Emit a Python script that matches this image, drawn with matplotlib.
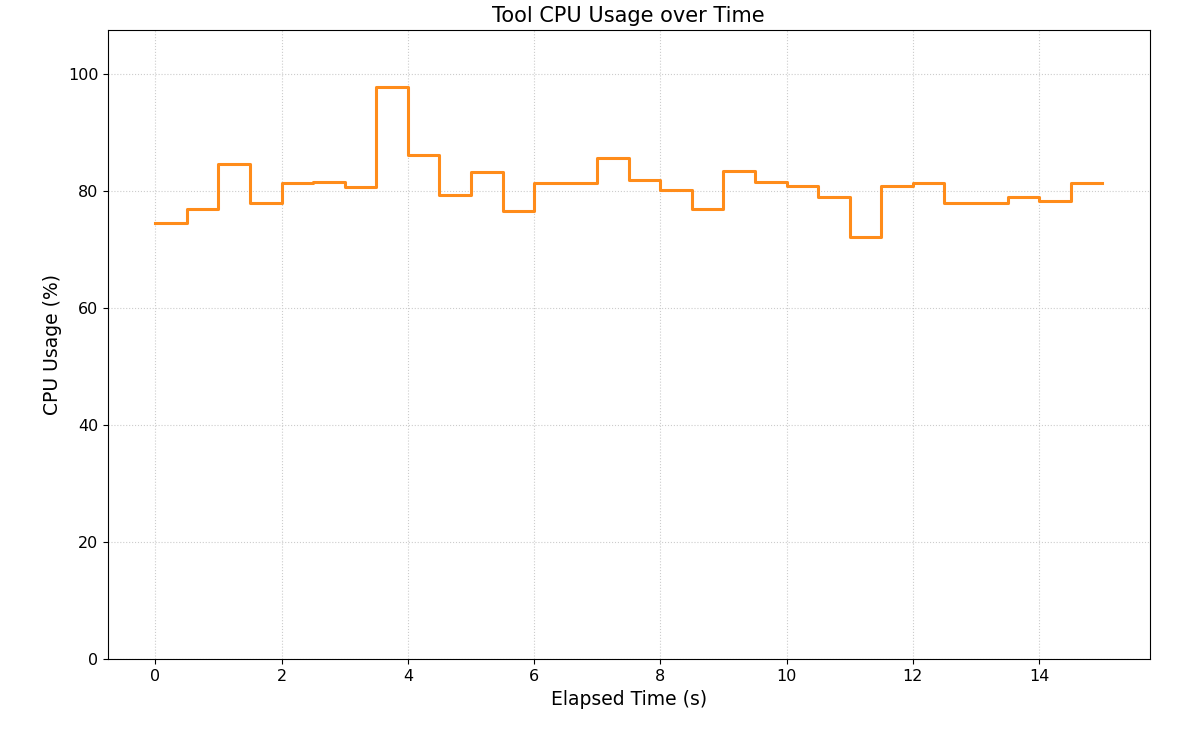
import matplotlib
matplotlib.use("Agg")
import matplotlib.pyplot as plt

time_s = [i * 0.5 for i in range(31)]
cpu = [74.6, 77.0, 84.6, 78.0, 81.4, 81.6, 80.7, 97.8, 86.2, 79.4, 83.3, 76.6,
       81.5, 81.5, 85.7, 81.9, 80.2, 77.0, 83.5, 81.6, 80.9, 79.0, 72.2, 80.9,
       81.4, 78.0, 78.0, 79.0, 78.4, 81.5, 81.5]

fig, ax = plt.subplots(figsize=(12, 7.5), dpi=100)
ax.step(time_s, cpu, where="post", color="#ff8c1a", linewidth=2.2)
ax.set_ylim(0, max(cpu) * 1.1)
ax.set_title("Tool CPU Usage over Time", fontsize=15)
ax.set_xlabel("Elapsed Time (s)", fontsize=13.5)
ax.set_ylabel("CPU Usage (%)", fontsize=13.5)
ax.tick_params(labelsize=11.5)
ax.grid(True, linestyle=":", color="#cccccc")
fig.subplots_adjust(left=0.09, right=0.958, top=0.96, bottom=0.121)
fig.savefig("out.png")
